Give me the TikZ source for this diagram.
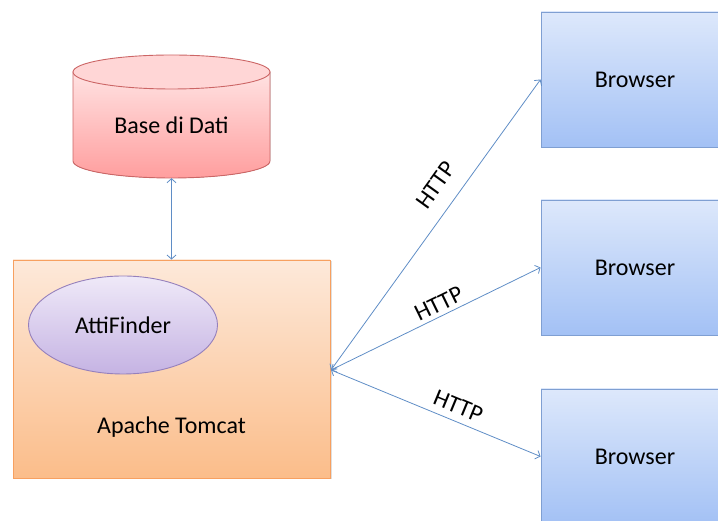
\documentclass[tikz,border=0pt]{standalone}
\usepackage{fontspec}
\setmainfont{Carlito}
\usetikzlibrary{arrows.meta,shadows,shapes.geometric}
\definecolor{dbtop}{HTML}{FFE2E2}
\definecolor{dbbot}{HTML}{FF9E9E}
\definecolor{dbcap}{HTML}{FFD6D6}
\definecolor{dbline}{HTML}{CC6666}
\definecolor{tctop}{HTML}{FDE9DA}
\definecolor{tcbot}{HTML}{FBBD8A}
\definecolor{tcline}{HTML}{F7A060}
\definecolor{eltop}{HTML}{EFE9F8}
\definecolor{elbot}{HTML}{C5B3E3}
\definecolor{elline}{HTML}{9580BC}
\definecolor{brtop}{HTML}{DDE8FB}
\definecolor{brbot}{HTML}{A3C1F5}
\definecolor{brline}{HTML}{7F9FD2}
\definecolor{conn}{HTML}{5F8DC6}
\tikzset{
  lbl/.style={font=\fontsize{24}{28}\selectfont, text=black},
  browserbox/.style={draw=brline, line width=0.9pt, top color=brtop, bottom color=brbot,
    minimum width=189pt, minimum height=135pt, inner sep=0pt,
    drop shadow={opacity=0.25, shadow xshift=1.5pt, shadow yshift=-1.5pt}},
  tomcatbox/.style={draw=tcline, line width=0.9pt, top color=tctop, bottom color=tcbot,
    minimum width=317pt, minimum height=218pt, inner sep=0pt,
    drop shadow={opacity=0.25, shadow xshift=1.5pt, shadow yshift=-1.5pt}},
  appell/.style={ellipse, draw=elline, line width=0.9pt, top color=eltop, bottom color=elbot,
    minimum width=189pt, minimum height=98pt, inner sep=0pt},
  conn/.style={draw=conn, line width=0.8pt, {Straight Barb[length=4pt,width=9pt]}-{Straight Barb[length=4pt,width=9pt]}},
  httplbl/.style={lbl, sloped, above}
}
\begin{document}
\begin{tikzpicture}[x=1pt,y=1pt]
\useasboundingbox (0,0) rectangle (718,521);
\begin{scope}
\clip (0,0) rectangle (718,521);
% database cylinder
\fill[top color=dbtop, bottom color=dbbot, draw=dbline, line width=0.9pt]
  (73,449) -- (73,360) arc[start angle=180, end angle=360, x radius=98.5, y radius=17] -- (270,449) -- cycle;
\draw[fill=dbcap, draw=dbline, line width=0.9pt] (171.5,449) ellipse[x radius=98.5, y radius=17];
\node[minimum width=197pt, minimum height=123pt, inner sep=0pt] (db) at (171.5,404.5) {};
\node[lbl] (dbtext) at (171.5,396) {Base di Dati};
% tomcat
\node[tomcatbox] (tomcat) at (171.5,152) {};
\node[appell] (atti) at (123,196) {};
\node[lbl] (attitext) at (123,196) {AttiFinder};
\node[lbl] (tctext) at (171.5,94) {Apache Tomcat};
% browsers
\node[browserbox] (b1) at (635.5,441.5) {};
\node[browserbox] (b2) at (635.5,253.5) {};
\node[browserbox] (b3) at (635.5,64.5) {};
\node[lbl] (b1t) at (635,441) {Browser};
\node[lbl] (b2t) at (635,253) {Browser};
\node[lbl] (b3t) at (635,64) {Browser};
% connectors
\coordinate (tce) at (331,151);
\draw[conn] (db.south) -- (tomcat.north);
\draw[conn] (tce) -- node[httplbl, pos=0.59, inner sep=15pt] {HTTP} (b1.west);
\draw[conn] (tce) -- node[httplbl, pos=0.54, inner sep=4pt] {HTTP} (b2.west);
\draw[conn] (tce) -- node[httplbl, pos=0.58, inner sep=7pt] {HTTP} (b3.west);
\end{scope}
\end{tikzpicture}
\end{document}
